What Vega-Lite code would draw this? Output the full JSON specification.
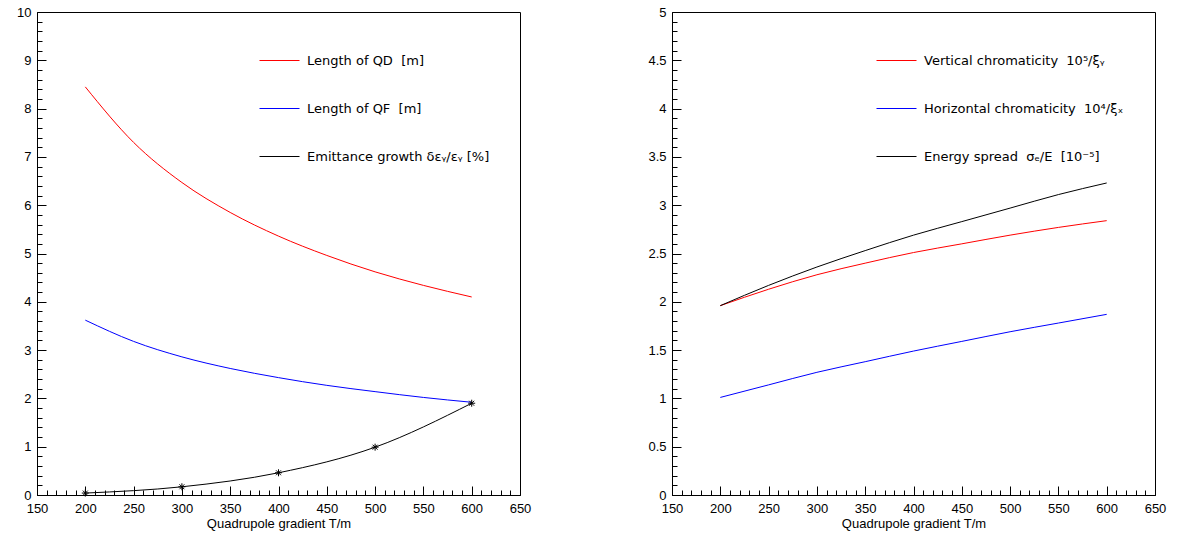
{
  "$schema": "https://vega.github.io/schema/vega-lite/v6.json",
  "padding": {"left": 0, "top": 5, "right": 0, "bottom": 0},
  "background": "white",
  "spacing": 103,
  "datasets": {
    "left": [
      {"g": 200, "v": 8.45, "s": "Length of QD\u00a0\u00a0[m]"},
      {"g": 250, "v": 7.30, "s": "Length of QD\u00a0\u00a0[m]"},
      {"g": 300, "v": 6.47, "s": "Length of QD\u00a0\u00a0[m]"},
      {"g": 350, "v": 5.85, "s": "Length of QD\u00a0\u00a0[m]"},
      {"g": 400, "v": 5.36, "s": "Length of QD\u00a0\u00a0[m]"},
      {"g": 450, "v": 4.96, "s": "Length of QD\u00a0\u00a0[m]"},
      {"g": 500, "v": 4.62, "s": "Length of QD\u00a0\u00a0[m]"},
      {"g": 550, "v": 4.34, "s": "Length of QD\u00a0\u00a0[m]"},
      {"g": 600, "v": 4.10, "s": "Length of QD\u00a0\u00a0[m]"},
      {"g": 200, "v": 3.62, "s": "Length of QF\u00a0\u00a0[m]"},
      {"g": 250, "v": 3.18, "s": "Length of QF\u00a0\u00a0[m]"},
      {"g": 300, "v": 2.86, "s": "Length of QF\u00a0\u00a0[m]"},
      {"g": 350, "v": 2.62, "s": "Length of QF\u00a0\u00a0[m]"},
      {"g": 400, "v": 2.43, "s": "Length of QF\u00a0\u00a0[m]"},
      {"g": 450, "v": 2.27, "s": "Length of QF\u00a0\u00a0[m]"},
      {"g": 500, "v": 2.14, "s": "Length of QF\u00a0\u00a0[m]"},
      {"g": 550, "v": 2.02, "s": "Length of QF\u00a0\u00a0[m]"},
      {"g": 600, "v": 1.92, "s": "Length of QF\u00a0\u00a0[m]"},
      {"g": 200, "v": 0.04, "s": "Emittance growth δεᵧ/εᵧ [%]"},
      {"g": 300, "v": 0.17, "s": "Emittance growth δεᵧ/εᵧ [%]"},
      {"g": 400, "v": 0.46, "s": "Emittance growth δεᵧ/εᵧ [%]"},
      {"g": 500, "v": 0.99, "s": "Emittance growth δεᵧ/εᵧ [%]"},
      {"g": 600, "v": 1.90, "s": "Emittance growth δεᵧ/εᵧ [%]"}
    ],
    "right": [
      {"g": 200, "v": 1.96, "s": "Vertical chromaticity\u00a0\u00a010⁵/ξᵧ"},
      {"g": 250, "v": 2.13, "s": "Vertical chromaticity\u00a0\u00a010⁵/ξᵧ"},
      {"g": 300, "v": 2.28, "s": "Vertical chromaticity\u00a0\u00a010⁵/ξᵧ"},
      {"g": 350, "v": 2.40, "s": "Vertical chromaticity\u00a0\u00a010⁵/ξᵧ"},
      {"g": 400, "v": 2.51, "s": "Vertical chromaticity\u00a0\u00a010⁵/ξᵧ"},
      {"g": 450, "v": 2.60, "s": "Vertical chromaticity\u00a0\u00a010⁵/ξᵧ"},
      {"g": 500, "v": 2.69, "s": "Vertical chromaticity\u00a0\u00a010⁵/ξᵧ"},
      {"g": 550, "v": 2.77, "s": "Vertical chromaticity\u00a0\u00a010⁵/ξᵧ"},
      {"g": 600, "v": 2.84, "s": "Vertical chromaticity\u00a0\u00a010⁵/ξᵧ"},
      {"g": 200, "v": 1.01, "s": "Horizontal chromaticity\u00a0\u00a010⁴/ξₓ"},
      {"g": 250, "v": 1.14, "s": "Horizontal chromaticity\u00a0\u00a010⁴/ξₓ"},
      {"g": 300, "v": 1.27, "s": "Horizontal chromaticity\u00a0\u00a010⁴/ξₓ"},
      {"g": 350, "v": 1.38, "s": "Horizontal chromaticity\u00a0\u00a010⁴/ξₓ"},
      {"g": 400, "v": 1.49, "s": "Horizontal chromaticity\u00a0\u00a010⁴/ξₓ"},
      {"g": 450, "v": 1.59, "s": "Horizontal chromaticity\u00a0\u00a010⁴/ξₓ"},
      {"g": 500, "v": 1.69, "s": "Horizontal chromaticity\u00a0\u00a010⁴/ξₓ"},
      {"g": 550, "v": 1.78, "s": "Horizontal chromaticity\u00a0\u00a010⁴/ξₓ"},
      {"g": 600, "v": 1.87, "s": "Horizontal chromaticity\u00a0\u00a010⁴/ξₓ"},
      {"g": 200, "v": 1.96, "s": "Energy spread\u00a0\u00a0σₑ/E\u00a0\u00a0[10⁻⁵]"},
      {"g": 250, "v": 2.17, "s": "Energy spread\u00a0\u00a0σₑ/E\u00a0\u00a0[10⁻⁵]"},
      {"g": 300, "v": 2.36, "s": "Energy spread\u00a0\u00a0σₑ/E\u00a0\u00a0[10⁻⁵]"},
      {"g": 350, "v": 2.53, "s": "Energy spread\u00a0\u00a0σₑ/E\u00a0\u00a0[10⁻⁵]"},
      {"g": 400, "v": 2.69, "s": "Energy spread\u00a0\u00a0σₑ/E\u00a0\u00a0[10⁻⁵]"},
      {"g": 450, "v": 2.83, "s": "Energy spread\u00a0\u00a0σₑ/E\u00a0\u00a0[10⁻⁵]"},
      {"g": 500, "v": 2.97, "s": "Energy spread\u00a0\u00a0σₑ/E\u00a0\u00a0[10⁻⁵]"},
      {"g": 550, "v": 3.11, "s": "Energy spread\u00a0\u00a0σₑ/E\u00a0\u00a0[10⁻⁵]"},
      {"g": 600, "v": 3.23, "s": "Energy spread\u00a0\u00a0σₑ/E\u00a0\u00a0[10⁻⁵]"}
    ]
  },
  "resolve": {"scale": {"color": "independent"}, "legend": {"color": "independent"}},
  "hconcat": [
    {
      "width": 483,
      "height": 483,
      "data": {"name": "left"},
      "layer": [
        {
          "mark": {"type": "line", "strokeWidth": 1, "interpolate": "monotone"},
          "encoding": {
            "x": {"field": "g", "type": "quantitative", "scale": {"domain": [150, 650], "nice": false, "zero": false},
              "axis": {"orient": "bottom", "values": [150, 200, 250, 300, 350, 400, 450, 500, 550, 600, 650], "tickSize": -9, "labelPadding": 16, "title": "Quadrupole gradient T/m", "titlePadding": 2, "grid": false, "labelFlush": false, "labelOverlap": false}},
            "y": {"field": "v", "type": "quantitative", "scale": {"domain": [0, 10], "nice": false},
              "axis": {"orient": "left", "values": [0, 1, 2, 3, 4, 5, 6, 7, 8, 9, 10], "tickSize": -9, "labelPadding": 15, "title": null, "grid": false, "minExtent": 36, "maxExtent": 36, "labelOverlap": false}},
            "color": {"field": "s", "type": "nominal",
              "scale": {"domain": ["Length of QD\u00a0\u00a0[m]", "Length of QF\u00a0\u00a0[m]", "Emittance growth δεᵧ/εᵧ [%]"], "range": ["#ff0000", "#0000ff", "#000000"]},
              "legend": {"orient": "none", "legendX": 222, "legendY": 28, "title": null}}
          }
        },
        {
          "transform": [{"filter": "indexof(datum.s, 'Emittance') == 0"}],
          "mark": {"type": "point", "shape": "M-1,0L1,0M0,-1L0,1M-0.7,-0.7L0.7,0.7M-0.7,0.7L0.7,-0.7", "filled": false, "size": 49, "stroke": "black", "strokeWidth": 1, "opacity": 1},
          "encoding": {
            "x": {"field": "g", "type": "quantitative",
              "axis": {"orient": "bottom", "values": [160, 170, 180, 190, 210, 220, 230, 240, 260, 270, 280, 290, 310, 320, 330, 340, 360, 370, 380, 390, 410, 420, 430, 440, 460, 470, 480, 490, 510, 520, 530, 540, 560, 570, 580, 590, 610, 620, 630, 640], "tickSize": -5, "labels": false, "domain": false, "title": null, "grid": false, "minExtent": 0, "maxExtent": 0}},
            "y": {"field": "v", "type": "quantitative",
              "axis": {"orient": "left", "values": [0.2, 0.4, 0.6, 0.8, 1.2, 1.4, 1.6, 1.8, 2.2, 2.4, 2.6, 2.8, 3.2, 3.4, 3.6, 3.8, 4.2, 4.4, 4.6, 4.8, 5.2, 5.4, 5.6, 5.8, 6.2, 6.4, 6.6, 6.8, 7.2, 7.4, 7.6, 7.8, 8.2, 8.4, 8.6, 8.8, 9.2, 9.4, 9.6, 9.8], "tickSize": -5, "labels": false, "domain": false, "title": null, "grid": false, "minExtent": 0, "maxExtent": 0}}
          }
        }
      ],
      "resolve": {"axis": {"x": "independent", "y": "independent"}}
    },
    {
      "width": 483,
      "height": 483,
      "data": {"name": "right"},
      "layer": [
        {
          "mark": {"type": "line", "strokeWidth": 1, "interpolate": "monotone"},
          "encoding": {
            "x": {"field": "g", "type": "quantitative", "scale": {"domain": [150, 650], "nice": false, "zero": false},
              "axis": {"orient": "bottom", "values": [150, 200, 250, 300, 350, 400, 450, 500, 550, 600, 650], "tickSize": -9, "labelPadding": 16, "title": "Quadrupole gradient T/m", "titlePadding": 2, "grid": false, "labelFlush": false, "labelOverlap": false}},
            "y": {"field": "v", "type": "quantitative", "scale": {"domain": [0, 5], "nice": false},
              "axis": {"orient": "left", "values": [0, 0.5, 1, 1.5, 2, 2.5, 3, 3.5, 4, 4.5, 5], "format": "~g", "tickSize": -9, "labelPadding": 15, "title": null, "grid": false, "minExtent": 36, "maxExtent": 36, "labelOverlap": false}},
            "color": {"field": "s", "type": "nominal",
              "scale": {"domain": ["Vertical chromaticity\u00a0\u00a010⁵/ξᵧ", "Horizontal chromaticity\u00a0\u00a010⁴/ξₓ", "Energy spread\u00a0\u00a0σₑ/E\u00a0\u00a0[10⁻⁵]"], "range": ["#ff0000", "#0000ff", "#000000"]},
              "legend": {"orient": "none", "legendX": 204, "legendY": 28, "title": null}}
          }
        },
        {
          "mark": {"type": "point", "opacity": 0},
          "encoding": {
            "x": {"field": "g", "type": "quantitative",
              "axis": {"orient": "bottom", "values": [160, 170, 180, 190, 210, 220, 230, 240, 260, 270, 280, 290, 310, 320, 330, 340, 360, 370, 380, 390, 410, 420, 430, 440, 460, 470, 480, 490, 510, 520, 530, 540, 560, 570, 580, 590, 610, 620, 630, 640], "tickSize": -5, "labels": false, "domain": false, "title": null, "grid": false, "minExtent": 0, "maxExtent": 0}},
            "y": {"field": "v", "type": "quantitative",
              "axis": {"orient": "left", "values": [0.1, 0.2, 0.3, 0.4, 0.6, 0.7, 0.8, 0.9, 1.1, 1.2, 1.3, 1.4, 1.6, 1.7, 1.8, 1.9, 2.1, 2.2, 2.3, 2.4, 2.6, 2.7, 2.8, 2.9, 3.1, 3.2, 3.3, 3.4, 3.6, 3.7, 3.8, 3.9, 4.1, 4.2, 4.3, 4.4, 4.6, 4.7, 4.8, 4.9], "tickSize": -5, "labels": false, "domain": false, "title": null, "grid": false, "minExtent": 0, "maxExtent": 0}}
          }
        }
      ],
      "resolve": {"axis": {"x": "independent", "y": "independent"}}
    }
  ],
  "config": {
    "view": {"stroke": "black", "strokeWidth": 1},
    "axis": {"labelFont": "Liberation Sans", "titleFont": "Liberation Sans", "labelFontSize": 13, "titleFontSize": 13, "titleFontWeight": "normal", "labelColor": "black", "titleColor": "black", "domainColor": "black", "tickColor": "black"},
    "legend": {"symbolType": "stroke", "symbolSize": 1600, "symbolStrokeWidth": 1, "labelFont": "DejaVu Sans", "labelFontSize": 13, "labelColor": "black", "rowPadding": 20, "labelOffset": 7, "labelLimit": 400}
  }
}
